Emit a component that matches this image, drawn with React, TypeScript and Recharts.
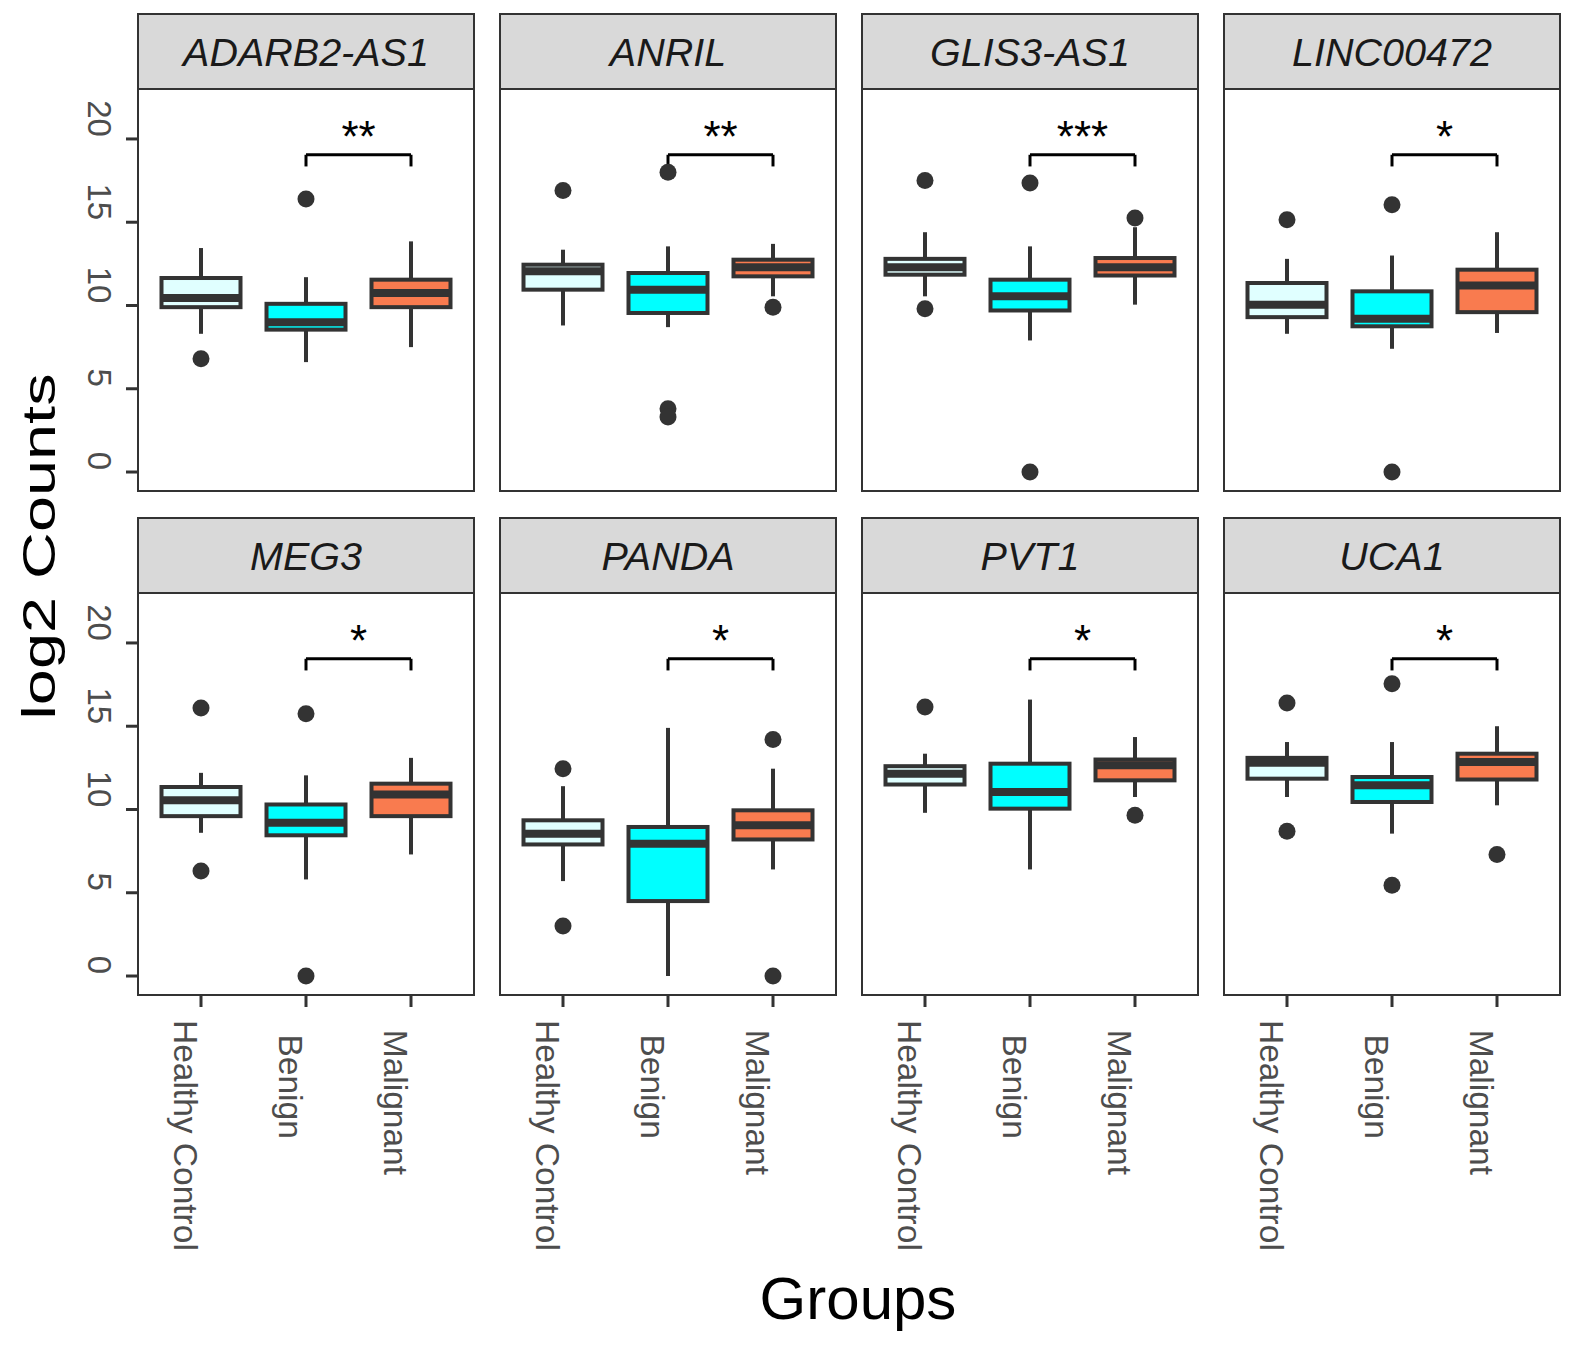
import React from 'react';
import { ComposedChart, Bar, Scatter, XAxis, YAxis, ReferenceLine } from 'recharts';

const groups = ['Healthy Control', 'Benign', 'Malignant'];
const genes = ['ADARB2-AS1', 'ANRIL', 'GLIS3-AS1', 'LINC00472', 'MEG3', 'PANDA', 'PVT1', 'UCA1'];
const signif = ['**', '**', '***', '*', '*', '*', '*', '*'];
const yTicks = [0, 5, 10, 15, 20];

// one row per gene, columns: Healthy Control, Benign, Malignant
const whiskerLow = [
  [8.3, 6.6, 7.5],
  [8.8, 8.7, 10.55],
  [10.55, 7.9, 10.05],
  [8.3, 7.4, 8.35],
  [8.6, 5.8, 7.3],
  [5.7, 0, 6.4],
  [9.8, 6.4, 10.75],
  [10.75, 8.55, 10.25],
];
const quart1 = [
  [9.9, 8.55, 9.9],
  [10.95, 9.55, 11.75],
  [11.85, 9.7, 11.8],
  [9.3, 8.75, 9.6],
  [9.6, 8.45, 9.6],
  [7.9, 4.5, 8.2],
  [11.5, 10.05, 11.75],
  [11.85, 10.45, 11.8],
];
const medians = [
  [10.45, 9.0, 10.75],
  [12.05, 10.95, 12.3],
  [12.3, 10.55, 12.3],
  [10.05, 9.2, 11.2],
  [10.55, 9.2, 10.9],
  [8.55, 7.95, 9.05],
  [12.15, 11.05, 12.65],
  [12.8, 11.45, 12.85],
];
const quart3 = [
  [11.65, 10.1, 11.55],
  [12.45, 11.95, 12.75],
  [12.8, 11.55, 12.85],
  [11.35, 10.85, 12.15],
  [11.35, 10.3, 11.55],
  [9.35, 8.95, 9.95],
  [12.6, 12.75, 13.0],
  [13.1, 11.95, 13.35],
];
const whiskerHigh = [
  [13.45, 11.7, 13.85],
  [13.35, 13.55, 13.7],
  [14.4, 13.55, 14.7],
  [12.8, 13.0, 14.4],
  [12.2, 12.05, 13.1],
  [11.4, 14.9, 12.45],
  [13.35, 16.6, 14.35],
  [14.05, 14.05, 15.0],
];
const outliers = [
  [[6.8], [16.4], []],
  [[16.9], [18.0, 3.8, 3.3], [9.9]],
  [[17.5, 9.8], [17.35, 0], [15.25]],
  [[15.15], [16.05, 0], []],
  [[16.1, 6.3], [15.75, 0], []],
  [[12.45, 3.0], [], [14.2, 0]],
  [[16.15], [], [9.65]],
  [[16.4, 8.7], [17.55, 5.45], [7.3]],
];
const bracketY = 19.05;
const bracketTip = 18.35;

const FONT = '"Liberation Sans", Arial, Helvetica, sans-serif';
const INK = '#333333';
const TICK_TEXT = '#4d4d4d';
const groupFill: Record<string, string> = {
  'Healthy Control': '#E0FFFF',
  Benign: '#00FFFF',
  Malignant: '#F97B4F',
};

const COL_LEFT = [138, 500, 862, 1224];
const STRIP_TOP = [13, 517];
const PANEL_W = 336;
const STRIP_H = 76;
const PLOT_H = 402;
const AXIS_W = 70;
const BOX_W = 79;

let measureCtx: CanvasRenderingContext2D | null = null;
function textWidth(s: string, size: number) {
  if (!measureCtx && typeof document !== 'undefined') {
    measureCtx = document.createElement('canvas').getContext('2d');
  }
  if (!measureCtx) return s.length * size * 0.5;
  measureCtx.font = `${size}px "Liberation Sans", Arial, sans-serif`;
  return measureCtx.measureText(s).width;
}

function rowsFor(g: number) {
  return groups.map((name, j) => {
    const row: any = {
      group: name,
      whisker: [whiskerLow[g][j], whiskerHigh[g][j]],
      box: [quart1[g][j], quart3[g][j]],
      median: medians[g][j],
    };
    outliers[g][j].forEach((v, k) => {
      row['out' + k] = v;
    });
    return row;
  });
}

const WhiskerShape = (props: any) => {
  const { x, y, width, height } = props;
  const top = Math.min(y, y + height);
  const cx = x + width / 2;
  return <line x1={cx} x2={cx} y1={top} y2={top + Math.abs(height)} stroke={INK} strokeWidth={4} />;
};

const BoxShape = (props: any) => {
  const { x, y, width, height, payload } = props;
  const top = Math.min(y, y + height);
  return (
    <rect
      x={x}
      y={top}
      width={width}
      height={Math.abs(height)}
      fill={groupFill[payload.group]}
      stroke={INK}
      strokeWidth={4}
    />
  );
};

const MedianShape = (props: any) => {
  const { cx, cy } = props;
  if (cx == null || cy == null || isNaN(cy)) return <g />;
  return <line x1={cx - BOX_W / 2} x2={cx + BOX_W / 2} y1={cy} y2={cy} stroke={INK} strokeWidth={8} />;
};

const outlierShape = (key: string) => (props: any) => {
  const { cx, cy, payload } = props;
  if (!payload || payload[key] == null || cy == null || isNaN(cy)) return <g />;
  return <circle cx={cx} cy={cy} r={8.5} fill={INK} />;
};

const YTick = (props: any) => {
  const { x, y, payload } = props;
  const bx = x - 36;
  const ty = y - 2;
  return (
    <text
      x={bx}
      y={ty}
      transform={`rotate(90 ${bx} ${ty})`}
      textAnchor="end"
      fontSize={33}
      fontFamily={FONT}
      fill={TICK_TEXT}
    >
      {payload.value}
    </text>
  );
};

const XTick = (props: any) => {
  const { x, y, payload } = props;
  const label = String(payload.value);
  const w = textWidth(label, 33.5);
  const bx = x - 27;
  const sy = y + 37.5 - 0.115 * w;
  return (
    <text x={bx} y={sy} transform={`rotate(90 ${bx} ${sy})`} fontSize={33.5} fontFamily={FONT} fill={TICK_TEXT}>
      {label}
    </text>
  );
};

const bracketShape = (stars: string) => (props: any) => {
  const { x1, y1, x2, y2 } = props;
  return (
    <g>
      <line x1={x1} y1={y1} x2={x2} y2={y2} stroke="#000" strokeWidth={3} />
      <text x={(x1 + x2) / 2} y={y1 - 3} textAnchor="middle" fontSize={44} fontFamily={FONT} fill="#000">
        {stars}
      </text>
    </g>
  );
};

function Panel({ g }: { g: number }) {
  const row = Math.floor(g / 4);
  const col = g % 4;
  const left = COL_LEFT[col];
  const stripTop = STRIP_TOP[row];
  const plotTop = stripTop + STRIP_H;
  const bottom = row === 1;
  const data = rowsFor(g);
  const height = PLOT_H + (bottom ? 270 : 0);

  return (
    <>
      <div
        style={{
          position: 'absolute',
          left: left - 1,
          top: stripTop,
          width: PANEL_W + 2,
          height: STRIP_H + 1,
          boxSizing: 'border-box',
          background: '#d9d9d9',
          border: `2px solid ${INK}`,
          display: 'flex',
          alignItems: 'center',
          justifyContent: 'center',
          fontFamily: FONT,
          fontStyle: 'italic',
          fontSize: 39.5,
          lineHeight: '40px',
          color: '#1a1a1a',
        }}
      >
        {genes[g]}
      </div>
      <div style={{ position: 'absolute', left: left - AXIS_W, top: plotTop }}>
        <ComposedChart
          width={AXIS_W + PANEL_W}
          height={height}
          data={data}
          margin={{ top: 0, right: 0, bottom: 0, left: 0 }}
          barSize={BOX_W}
          barGap={-BOX_W}
        >
          <XAxis
            dataKey="group"
            type="category"
            hide={!bottom}
            height={bottom ? 270 : 0}
            padding={{ left: 10.5, right: 10.5 }}
            interval={0}
            axisLine={false}
            tickSize={12}
            tickLine={{ stroke: INK, strokeWidth: 3 }}
            tick={XTick}
          />
          <YAxis
            type="number"
            domain={[-1.14, 23.0]}
            ticks={yTicks}
            allowDataOverflow
            width={AXIS_W}
            axisLine={false}
            tickSize={12}
            tickLine={col === 0 ? { stroke: INK, strokeWidth: 3 } : false}
            tick={col === 0 ? YTick : false}
          />
          <Bar dataKey="whisker" shape={WhiskerShape} isAnimationActive={false} />
          <Bar dataKey="box" shape={BoxShape} isAnimationActive={false} />
          <Scatter dataKey="median" shape={MedianShape} isAnimationActive={false} />
          <Scatter dataKey="out0" shape={outlierShape('out0')} isAnimationActive={false} />
          <Scatter dataKey="out1" shape={outlierShape('out1')} isAnimationActive={false} />
          <Scatter dataKey="out2" shape={outlierShape('out2')} isAnimationActive={false} />
          <ReferenceLine
            segment={[
              { x: groups[1], y: bracketY },
              { x: groups[2], y: bracketY },
            ]}
            shape={bracketShape(signif[g])}
          />
          <ReferenceLine
            segment={[
              { x: groups[1], y: bracketY },
              { x: groups[1], y: bracketTip },
            ]}
            stroke="#000"
            strokeWidth={3}
          />
          <ReferenceLine
            segment={[
              { x: groups[2], y: bracketY },
              { x: groups[2], y: bracketTip },
            ]}
            stroke="#000"
            strokeWidth={3}
          />
        </ComposedChart>
      </div>
      <div
        style={{
          position: 'absolute',
          left: left - 1,
          top: plotTop - 1,
          width: PANEL_W + 2,
          height: PLOT_H + 2,
          boxSizing: 'border-box',
          border: `2px solid ${INK}`,
          pointerEvents: 'none',
        }}
      />
    </>
  );
}

export default function App() {
  return (
    <div style={{ position: 'absolute', left: 0, top: 0, width: 1575, height: 1345, background: '#fff' }}>
      <style>{'body{margin:0;}'}</style>
      {genes.map((_, g) => (
        <Panel key={g} g={g} />
      ))}
      <svg
        width={1575}
        height={1345}
        style={{ position: 'absolute', left: 0, top: 0, pointerEvents: 'none' }}
      >
        <text
          transform="translate(55 546.5) rotate(-90) scale(1.41 1)"
          textAnchor="middle"
          fontSize={46}
          fontFamily={FONT}
          fill="#000"
        >
          log2 Counts
        </text>
        <text x={858} y={1319} textAnchor="middle" fontSize={60} fontFamily={FONT} fill="#000">
          Groups
        </text>
      </svg>
    </div>
  );
}
